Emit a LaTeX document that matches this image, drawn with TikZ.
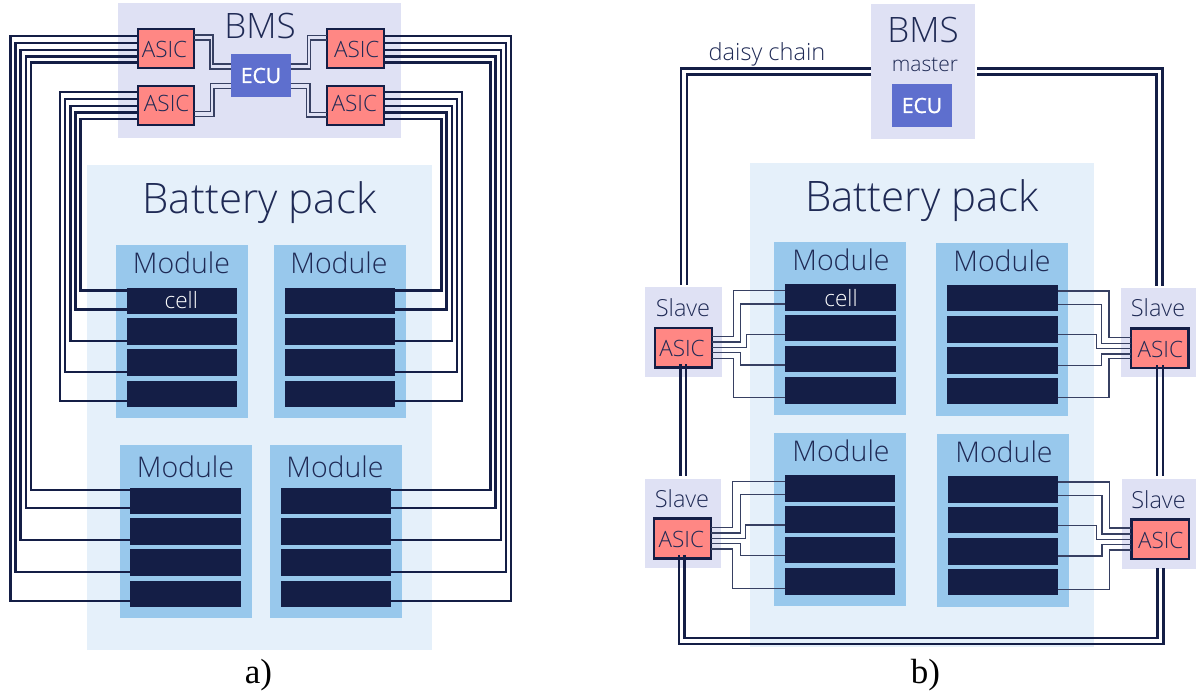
\documentclass[tikz,border=0pt]{standalone}
\usepackage{fontspec}
\setmainfont{Open Sans Light}
\newfontfamily\semi{Open Sans}[FakeBold=1.4]
\newfontfamily\capt{Liberation Serif}
\definecolor{navy}{HTML}{141E46}
\definecolor{ink}{HTML}{1F2A55}
\definecolor{modc}{HTML}{98C8EC}
\definecolor{packc}{HTML}{E5F0FA}
\definecolor{bmsc}{HTML}{DFE1F4}
\definecolor{asicc}{HTML}{FF8784}
\definecolor{ecuc}{HTML}{5E6FCE}
\newcommand\fs[1]{\fontsize{#1}{#1}\selectfont}
\newcommand\pxnode[7]{%
  \pgfmathsetmacro\cxx{(#2+#4)/2}%
  \pgfmathsetmacro\cyy{(#3+#5)/2}%
  \pgfmathsetmacro\www{#4-#2}%
  \pgfmathsetmacro\hhh{#5-#3}%
  \node[#6,minimum width=\www pt,minimum height=\hhh pt] (#1) at (\cxx,\cyy) {#7};}
\newcommand\cells[4]{%
  \foreach \n/\ya/\yb in {#4} {\pxnode{#1\n}{#2}{\ya}{#3}{\yb}{cellbox}{}}}
\tikzset{
  region/.style={inner sep=0pt,outer sep=0pt,text=ink},
  packbox/.style={region,fill=packc},
  bmsbox/.style={region,fill=bmsc},
  modbox/.style={region,fill=modc},
  cellbox/.style={region,fill=navy},
  asicbox/.style={region,fill=asicc,draw=navy,line width=2.4pt},
  ecubox/.style={region,fill=ecuc,text=white,font=\semi\fs{21}},
  label/.style={inner sep=0pt,outer sep=0pt,text=ink},
  asiclabel/.style={label,font=\fs{22.5}},
  modlabel/.style={label,font=\fs{28.5}},
  packlabel/.style={label,font=\fs{42}},
  slavelabel/.style={label,font=\fs{23.5}},
  celllabel/.style={label,text=white,font=\fs{22.5}},
  wire/.style={draw=navy,line width=2.4pt,line join=miter},
  thinwire/.style={draw=navy!85!white,line width=1.4pt,line join=miter},
  chain/.style={draw=navy,line width=2.5pt,line join=miter},
  capt/.style={inner sep=0pt,text=black,font=\capt\fs{35}}
}
\begin{document}
\begin{tikzpicture}[x=1pt,y=-1pt]
\useasboundingbox (0,0) rectangle (1196,695);
% ---------- a) ----------
\pxnode{packA}{87}{165}{432}{650}{packbox}{}
\pxnode{bmsA}{118}{3}{401}{138}{bmsbox}{}
\pxnode{mA1}{116}{245}{248}{418}{modbox}{}
\pxnode{mA2}{273.5}{245}{405.5}{418}{modbox}{}
\pxnode{mA3}{120}{445}{252}{618}{modbox}{}
\pxnode{mA4}{269.5}{445}{401.5}{618}{modbox}{}
\cells{cA1}{127}{237}{a/288/314,b/318/345,c/349/376,d/381/407}
\cells{cA2}{285}{395}{a/288/314,b/318/345,c/349/376,d/381/407}
\cells{cA3}{130}{241}{a/487.5/514,b/518/544.7,c/549.3/576,d/581/607}
\cells{cA4}{281}{391}{a/487.5/514,b/518/544.7,c/549.3/576,d/581/607}
\pxnode{aTL}{138}{29}{194}{68}{asicbox}{}
\pxnode{aBL}{138}{86}{194}{125}{asicbox}{}
\pxnode{aTR}{327}{29}{384}{68}{asicbox}{}
\pxnode{aBR}{327}{86}{384}{125}{asicbox}{}
\pxnode{ecuA}{231}{54}{291}{97}{ecubox}{ECU}
\node[asiclabel] (lTL) at (164.5,49.5) {ASIC};
\node[asiclabel] (lBL) at (166.7,103) {ASIC};
\node[asiclabel] (lTR) at (356.7,49.5) {ASIC};
\node[asiclabel] (lBR) at (354.3,103) {ASIC};
\node[label,font=\fs{35}] (tBmsA) at (260,26) {BMS};
\node[packlabel] (tPackA) at (259.5,202.5) {Battery pack};
\node[modlabel] (tA1) at (181.5,263) {Module};
\node[modlabel] (tA2) at (339,263) {Module};
\node[modlabel] (tA3) at (185.5,467) {Module};
\node[modlabel] (tA4) at (335,467) {Module};
\node[celllabel] (tCellA) at (181.3,300) {cell};
% long wires, a)
\foreach \ya/\xv/\yb/\c in {36/10.3/601/d,43.3/15.5/572/c,50.3/20.5/540/b,56.7/25.7/508/a,62.7/31/490/a}
  \draw[wire] (aTL.west |- 0,\ya) -- (\xv,\ya) -- (\xv,\yb) -- (cA3\c.west |- 0,\yb);
\foreach \ya/\xv/\yb/\c in {36/510.7/601/d,43.3/505.7/572/c,50.3/500.7/540/b,56.7/495.3/508/a,62.7/490.3/490/a}
  \draw[wire] (aTR.east |- 0,\ya) -- (\xv,\ya) -- (\xv,\yb) -- (cA4\c.east |- 0,\yb);
\foreach \ya/\xv/\yb/\c in {92/59.7/401/d,99/64.7/372/c,106.3/70.3/340.7/b,112.7/75.3/309.3/a,119/80.3/290.3/a}
  \draw[wire] (aBL.west |- 0,\ya) -- (\xv,\ya) -- (\xv,\yb) -- (cA1\c.west |- 0,\yb);
\foreach \ya/\xv/\yb/\c in {92/462/401/d,99/456.7/372/c,106.3/451.7/340.7/b,112.7/446.3/309.3/a,119/441.3/290.3/a}
  \draw[wire] (aBR.east |- 0,\ya) -- (\xv,\ya) -- (\xv,\yb) -- (cA2\c.east |- 0,\yb);
% ECU wires
\foreach \ya/\xv/\yb in {35/213/64,40/210/69}
  \draw[thinwire] (aTL.east |- 0,\ya) -- (\xv,\ya) -- (\xv,\yb) -- (ecuA.west |- 0,\yb);
\foreach \ya/\xv/\yb in {111.7/210.7/83.3,116.7/214/88.3}
  \draw[thinwire] (aBL.east |- 0,\ya) -- (\xv,\ya) -- (\xv,\yb) -- (ecuA.west |- 0,\yb);
\foreach \ya/\xv/\yb in {35.3/307.7/64,40/310.7/69}
  \draw[thinwire] (aTR.west |- 0,\ya) -- (\xv,\ya) -- (\xv,\yb) -- (ecuA.east |- 0,\yb);
\foreach \ya/\xv/\yb in {112.3/310/83.3,117/306.7/88.3}
  \draw[thinwire] (aBR.west |- 0,\ya) -- (\xv,\ya) -- (\xv,\yb) -- (ecuA.east |- 0,\yb);
\node[capt] (capA) at (258.5,675) {a)};
% ---------- b) ----------
\pxnode{packB}{750}{163}{1094}{647}{packbox}{}
\pxnode{mB1}{774}{242}{906}{415}{modbox}{}
\pxnode{mB2}{936}{243}{1068}{416}{modbox}{}
\pxnode{mB3}{774}{433}{906}{606}{modbox}{}
\pxnode{mB4}{937}{434}{1069}{607}{modbox}{}
\cells{cB1}{785}{896}{a/284/311,b/315.3/341.3,c/346/372,d/377/404}
\cells{cB2}{947}{1058}{a/285/311,b/316/342.7,c/347/374,d/377.7/404}
\cells{cB3}{785}{895}{a/475/501.7,b/506/532.7,c/537.3/563.3,d/567.7/594.7}
\cells{cB4}{948}{1058}{a/476/502.7,b/507/533,c/537.7/565,d/569/595}
\pxnode{bmsB}{871}{4}{975}{139}{bmsbox}{}
\pxnode{ecuB}{892}{84}{952}{127}{ecubox}{ECU}
\pxnode{sTL}{645.3}{287.3}{721.7}{376.7}{bmsbox}{}
\pxnode{sTR}{1121}{288.3}{1196}{377.3}{bmsbox}{}
\pxnode{sBL}{644.7}{478.7}{721}{568.3}{bmsbox}{}
\pxnode{sBR}{1122}{479.3}{1196}{568.7}{bmsbox}{}
\pxnode{bTL}{655}{327.7}{711.7}{367.3}{asicbox}{}
\pxnode{bTR}{1131}{328.3}{1188.3}{368}{asicbox}{}
\pxnode{bBL}{654}{518.3}{711}{558.3}{asicbox}{}
\pxnode{bBR}{1131.3}{519.3}{1189}{559}{asicbox}{}
\node[asiclabel] (lb1) at (682,348.7) {ASIC};
\node[asiclabel] (lb2) at (1160.3,349.5) {ASIC};
\node[asiclabel] (lb3) at (681.3,539.5) {ASIC};
\node[asiclabel] (lb4) at (1160.7,540.5) {ASIC};
\node[label,font=\fs{35}] (tBmsB) at (923,30) {BMS};
\node[label,font=\fs{21}] (tMaster) at (925,65) {master};
\node[label,font=\fs{23.6}] (tDaisy) at (767,54) {daisy chain};
\node[packlabel] (tPackB) at (922,200.5) {Battery pack};
\node[modlabel] (tB1) at (841,260) {Module};
\node[modlabel] (tB2) at (1002,261) {Module};
\node[modlabel] (tB3) at (841,451) {Module};
\node[modlabel] (tB4) at (1004,452) {Module};
\node[slavelabel] (tS1) at (683,308) {Slave};
\node[slavelabel] (tS2) at (1158,308) {Slave};
\node[slavelabel] (tS3) at (682,499) {Slave};
\node[slavelabel] (tS4) at (1158.5,500) {Slave};
\node[celllabel] (tCellB) at (841,298) {cell};
% cell wires b)
\foreach \ya/\xv/\yb/\c in {336.7/733.3/290.7/a,342/740.7/304/a,347.3/746.3/334.3/b,352.7/740.7/365/c,358.3/733.3/397.3/d}
  \draw[thinwire] (bTL.east |- 0,\ya) -- (\xv,\ya) -- (\xv,\yb) -- (cB1\c.west |- 0,\yb);
\foreach \ya/\xv/\yb/\c in {337.3/1109/291/a,343.3/1101.3/304.7/a,348.3/1096.3/334.7/b,354/1101.3/365.3/c,358.3/1109/397.7/d}
  \draw[thinwire] (bTR.west |- 0,\ya) -- (\xv,\ya) -- (\xv,\yb) -- (cB2\c.east |- 0,\yb);
\foreach \ya/\xv/\yb/\c in {527.7/732.3/481.3/a,533/740.3/494.3/a,538.7/745.7/525/b,543.7/740.3/555.7/c,549/732.3/588.3/d}
  \draw[thinwire] (bBL.east |- 0,\ya) -- (\xv,\ya) -- (\xv,\yb) -- (cB3\c.west |- 0,\yb);
\foreach \ya/\xv/\yb/\c in {528/1109.7/482/a,534/1102/495.7/a,539.3/1096.7/525.7/b,544.7/1102/556/c,550/1109.7/589.3/d}
  \draw[thinwire] (bBR.west |- 0,\ya) -- (\xv,\ya) -- (\xv,\yb) -- (cB4\c.east |- 0,\yb);
% daisy chain
\foreach \y/\x in {68.3/681,74.7/687}
  \draw[chain,shorten >=2pt] (bmsB.west |- 0,\y) -- (\x,\y) -- (sTL.north -| \x,0);
\foreach \y/\x in {68.3/1162.5,74.7/1156.7}
  \draw[chain,shorten >=2pt,shorten <=2pt] (bmsB.east |- 0,\y) -- (\x,\y) -- (sTR.north -| \x,0);
\foreach \x in {680.4,686}
  \draw[chain,shorten >=3pt,shorten <=-3pt] (bTL.south -| \x,0) -- (sBL.north -| \x,0);
\foreach \x in {1157,1163}
  \draw[chain,shorten >=3pt,shorten <=-3pt] (bTR.south -| \x,0) -- (sBR.north -| \x,0);
\foreach \xa/\xb/\y in {679/1163.7/644,684.3/1157.7/638}
  \draw[chain,shorten <=-3pt,shorten >=-1pt] (bBL.south -| \xa,0) -- (\xa,\y) -- (\xb,\y) -- (sBR.south -| \xb,0);
\node[capt] (capB) at (925.5,675) {b)};
\end{tikzpicture}
\end{document}
